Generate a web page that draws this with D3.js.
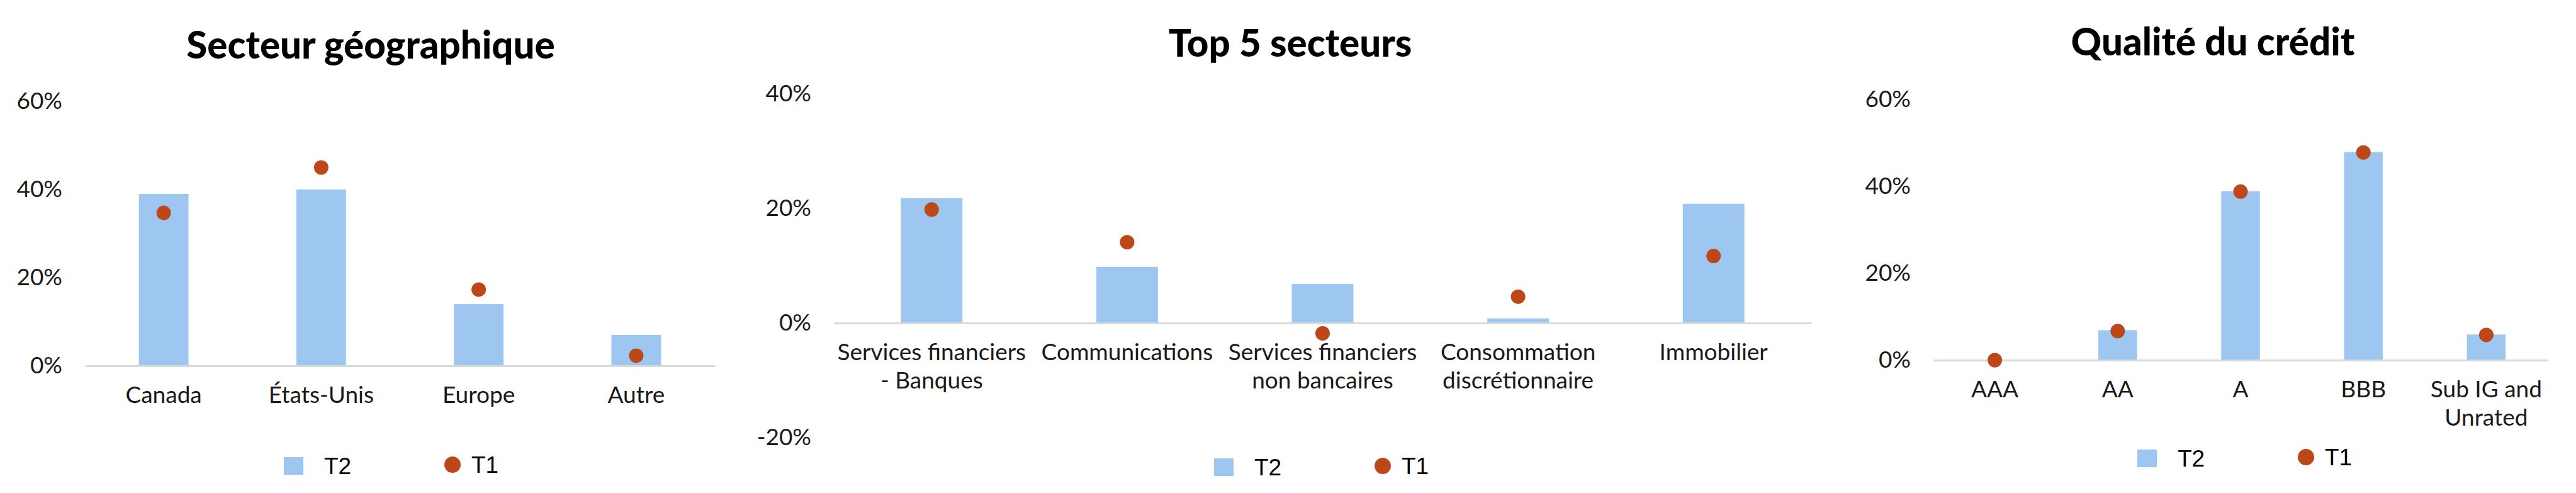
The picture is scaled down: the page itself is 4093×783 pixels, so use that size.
<!DOCTYPE html>
<html>
<head>
<meta charset="utf-8">
<script src="https://cdn.jsdelivr.net/npm/d3@7"></script>
<style>
  body { margin: 0; background: #fff; }
  svg { display: block; }
</style>
</head>
<body>
<svg id="chart" width="4093" height="783"></svg>
<script>
// --- data ---
const seriesNames = ['T2', 'T1'];

const geoTitle = 'Secteur géographique';
const geoCats = [['Canada'], ['États-Unis'], ['Europe'], ['Autre']];
const geoT2 = [0.39, 0.40, 0.14, 0.07];
const geoT1 = [0.347, 0.45, 0.173, 0.023];
const geoTicks = [0, 0.2, 0.4, 0.6];

const sectorTitle = 'Top 5 secteurs';
const sectorCats = [['Services financiers', '- Banques'], ['Communications'],
  ['Services financiers', 'non bancaires'], ['Consommation', 'discrétionnaire'], ['Immobilier']];
const sectorT2 = [0.218, 0.098, 0.068, 0.008, 0.208];
const sectorT1 = [0.198, 0.141, -0.018, 0.046, 0.117];
const sectorTicks = [-0.2, 0, 0.2, 0.4];

const creditTitle = 'Qualité du crédit';
const creditCats = [['AAA'], ['AA'], ['A'], ['BBB'], ['Sub IG and', 'Unrated']];
const creditT2 = [0, 0.069, 0.389, 0.479, 0.059];
const creditT1 = [0, 0.067, 0.388, 0.478, 0.058];
const creditTicks = [0, 0.2, 0.4, 0.6];

// --- styles ---
const barColor = '#9dc6f0';
const dotColor = '#bc4819';
const axisColor = '#d9d9d9';
const textFont = 'Lato, "Open Sans", sans-serif';
const legendFont = '"Liberation Sans", Arial, sans-serif';

// percent with a plain hyphen for negatives, like the original
const pct = d => `${Math.round(d * 100)}%`;

const svg = d3.select('#chart');

// one panel = title + bars + dots + axes + legend
function drawPanel(opt) {
  const g = svg.append('g');

  const x = d3.scaleBand()
    .domain(opt.cats.map((d, i) => i))
    .range([opt.x0, opt.x1])
    .paddingInner(0.685)
    .paddingOuter(0.3425);

  const y = d3.scaleLinear()
    .domain(opt.domain)
    .range([opt.yBottom, opt.yTop]);

  // title
  g.append('text')
    .attr('x', opt.titleX)
    .attr('y', opt.titleY)
    .attr('text-anchor', 'middle')
    .style('font-family', textFont)
    .style('font-weight', 900)
    .style('font-size', '60px')
    .attr('fill', '#000')
    .text(opt.title);

  // y labels
  const yAxis = g.append('g')
    .attr('transform', `translate(${opt.x0},0)`)
    .call(d3.axisLeft(y).tickValues(opt.ticks).tickSize(0).tickPadding(36)
      .tickFormat(pct));
  yAxis.select('.domain').remove();
  yAxis.selectAll('text')
    .style('font-family', textFont)
    .style('font-size', '37px')
    .attr('fill', '#1a1a1a');

  // bars
  g.append('g').selectAll('rect')
    .data(opt.t2)
    .join('rect')
    .attr('x', (d, i) => x(i))
    .attr('width', x.bandwidth())
    .attr('y', d => y(Math.max(0, d)))
    .attr('height', d => Math.abs(y(d) - y(0)))
    .attr('fill', barColor);

  // zero line + category labels
  const xAxis = g.append('g')
    .attr('transform', `translate(0,${y(0)})`)
    .call(d3.axisBottom(x).tickSize(0).tickPadding(33).tickFormat(''));
  xAxis.select('.domain')
    .attr('stroke', axisColor)
    .attr('stroke-width', 3);
  xAxis.selectAll('.tick text')
    .style('font-family', textFont)
    .style('font-size', '37px')
    .attr('fill', '#1a1a1a')
    .each(function (d) {
      const t = d3.select(this);
      opt.cats[d].forEach((line, k) => {
        t.append('tspan')
          .attr('x', 0)
          .attr('dy', k === 0 ? null : '1.22em')
          .text(line);
      });
    });

  // dots
  g.append('g').selectAll('circle')
    .data(opt.t1)
    .join('circle')
    .attr('cx', (d, i) => x(i) + x.bandwidth() / 2)
    .attr('cy', d => y(d))
    .attr('r', 11.5)
    .attr('fill', dotColor);

  // legend
  const lg = g.append('g');
  lg.append('rect')
    .attr('x', opt.legX)
    .attr('y', opt.legY - 14)
    .attr('width', 31)
    .attr('height', 28)
    .attr('fill', barColor);
  lg.append('text')
    .attr('x', opt.legX + 64)
    .attr('y', opt.legY + 13)
    .style('font-family', legendFont)
    .style('font-size', '37px')
    .attr('fill', '#000')
    .text(seriesNames[0]);
  lg.append('circle')
    .attr('cx', opt.legX + 268)
    .attr('cy', opt.legY - 2)
    .attr('r', 13)
    .attr('fill', dotColor);
  lg.append('text')
    .attr('x', opt.legX + 298)
    .attr('y', opt.legY + 11)
    .style('font-family', legendFont)
    .style('font-size', '37px')
    .attr('fill', '#000')
    .text(seriesNames[1]);
}

drawPanel({
  title: geoTitle, cats: geoCats, t2: geoT2, t1: geoT1, ticks: geoTicks,
  domain: [0, 0.6], x0: 135, x1: 1136, yBottom: 581, yTop: 161,
  titleX: 589, titleY: 93, legX: 451, legY: 740
});

drawPanel({
  title: sectorTitle, cats: sectorCats, t2: sectorT2, t1: sectorT1, ticks: sectorTicks,
  domain: [-0.2, 0.4], x0: 1325, x1: 2878, yBottom: 695, yTop: 149,
  titleX: 2050, titleY: 90, legX: 1929, legY: 742
});

drawPanel({
  title: creditTitle, cats: creditCats, t2: creditT2, t1: creditT1, ticks: creditTicks,
  domain: [0, 0.6], x0: 3072, x1: 4048, yBottom: 572, yTop: 158,
  titleX: 3516, titleY: 88, legX: 3396, legY: 728
});
</script>
</body>
</html>
